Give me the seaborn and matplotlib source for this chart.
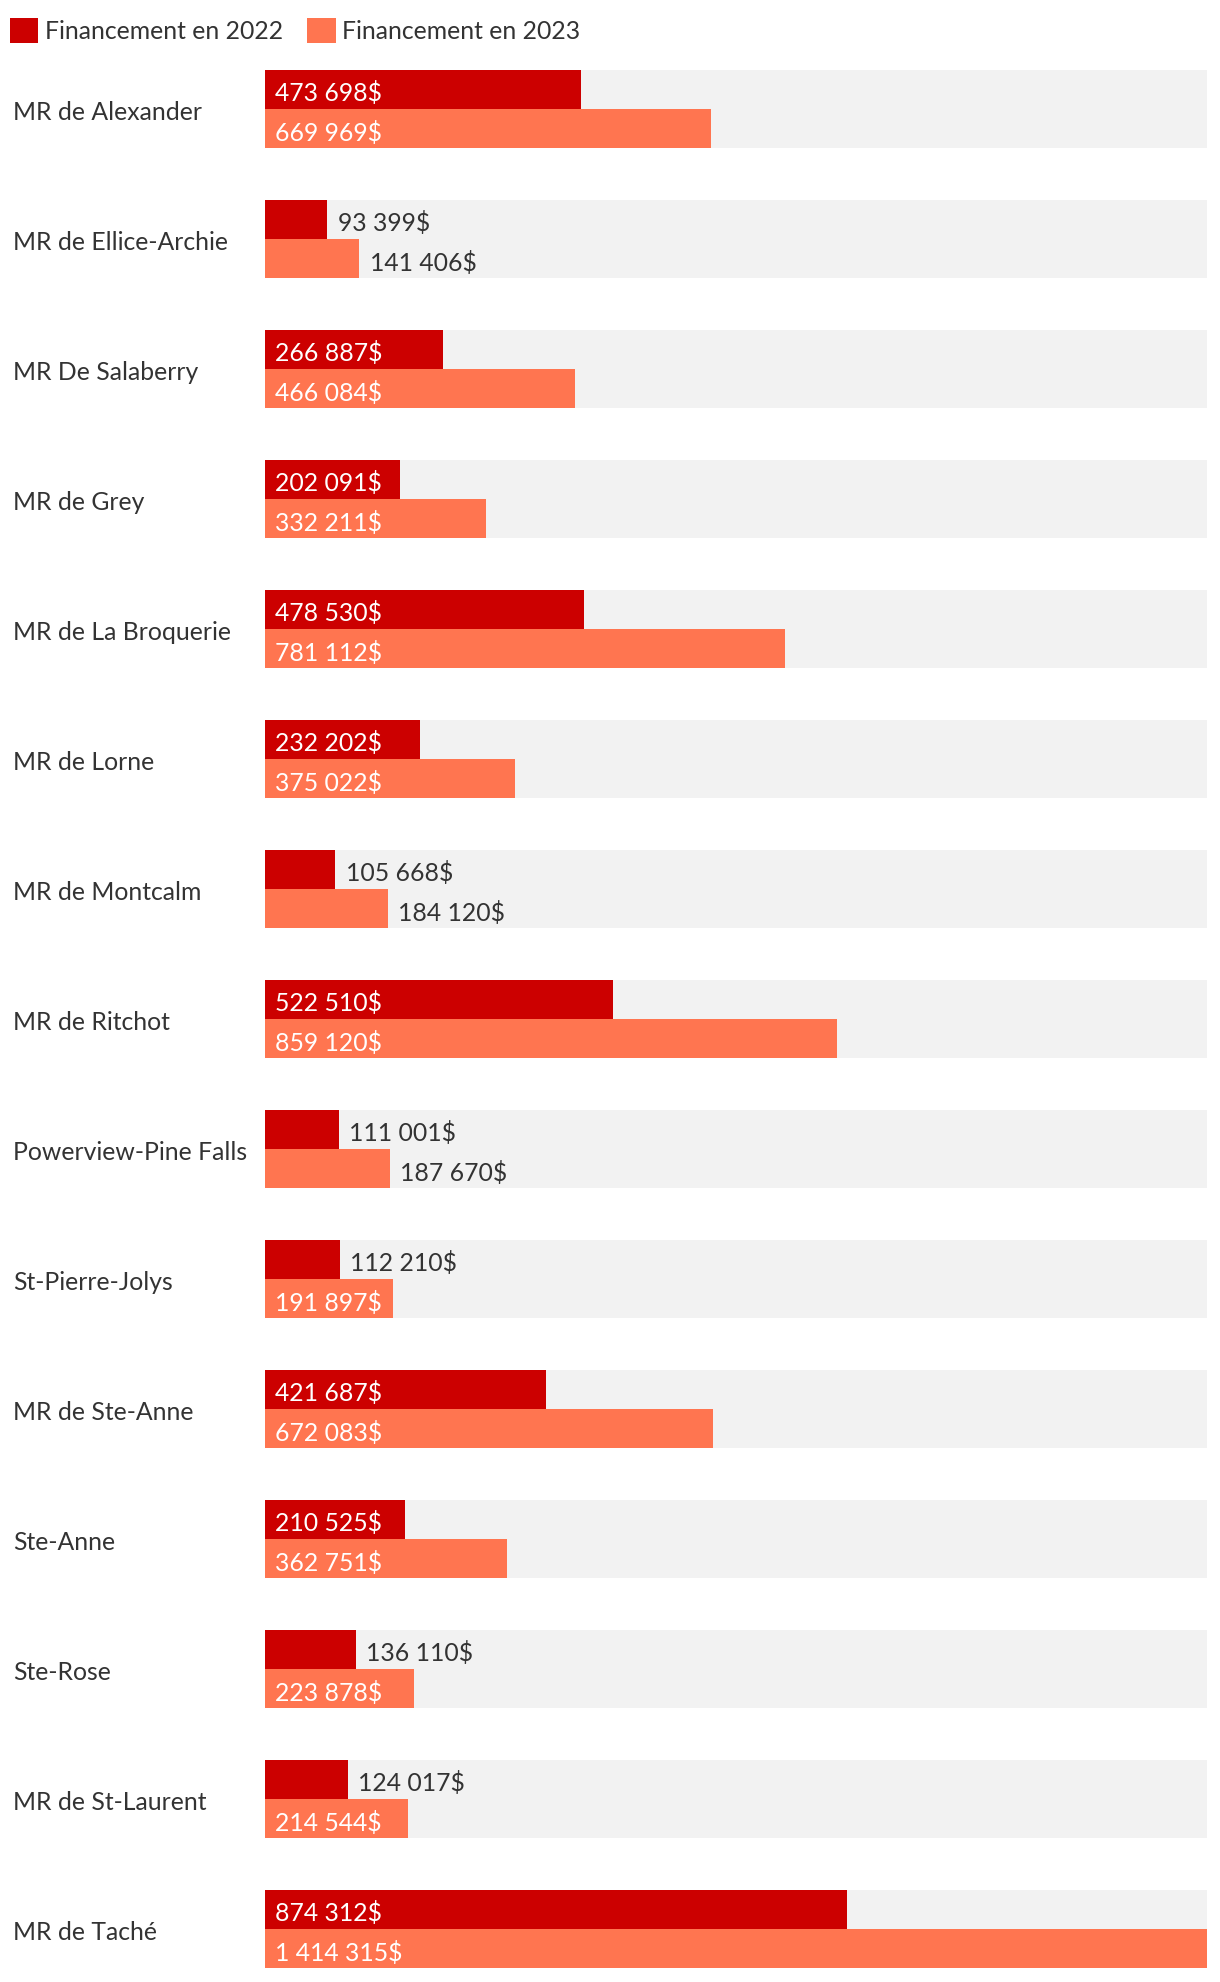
import matplotlib
matplotlib.use("Agg")
import matplotlib.pyplot as plt
import matplotlib.transforms as mtrans
import seaborn as sns
import pandas as pd

names = ["MR de Alexander", "MR de Ellice-Archie", "MR De Salaberry", "MR de Grey",
         "MR de La Broquerie", "MR de Lorne", "MR de Montcalm", "MR de Ritchot",
         "Powerview-Pine Falls", "St-Pierre-Jolys", "MR de Ste-Anne", "Ste-Anne",
         "Ste-Rose", "MR de St-Laurent", "MR de Taché"]
fund_2022 = [473698, 93399, 266887, 202091, 478530, 232202, 105668, 522510,
             111001, 112210, 421687, 210525, 136110, 124017, 874312]
fund_2023 = [669969, 141406, 466084, 332211, 781112, 375022, 184120, 859120,
             187670, 191897, 672083, 362751, 223878, 214544, 1414315]
series = ["Financement en 2022", "Financement en 2023"]
colors = ["#cc0000", "#ff7550"]

sns.set_style("white")
plt.rcParams['font.family'] = ['Lato', 'DejaVu Sans']
TXT = "#333333"
FS = 17.8

df = pd.DataFrame({
    "name": names * 2,
    "value": fund_2022 + fund_2023,
    "serie": [series[0]] * len(names) + [series[1]] * len(names),
})
top = max(fund_2023 + fund_2022)

fig = plt.figure(figsize=(12.2, 19.82), dpi=100)
ax = fig.add_axes([265 / 1220, 0, 942 / 1220, (1982 - 44) / 1982])

# grey track behind each pair of bars
sns.barplot(x=[top] * len(names), y=names, color="#f2f2f2", width=0.6,
            orient="h", errorbar=None, ax=ax, saturation=1, linewidth=0)
sns.barplot(data=df, x="value", y="name", hue="serie", palette=colors,
            width=0.6, orient="h", errorbar=None, ax=ax, saturation=1,
            order=names, hue_order=series, linewidth=0)

ax.set_xlim(0, top)
ax.set_ylim(len(names) - 1 + 53 / 130, -0.5)
ax.axis("off")

# nudge text a little lower so it sits centred on the bars
tr = mtrans.offset_copy(ax.transData, fig=fig, y=-4, units="dots")

pad = top * 0.011
for cont, vals in zip(ax.containers[1:], [fund_2022, fund_2023]):
    for bar, v in zip(cont, vals):
        lab = f"{v:,}".replace(",", " ") + "$"
        yc = bar.get_y() + bar.get_height() / 2
        if v >= 190000:
            ax.text(bar.get_x() + pad, yc, lab, color="white", va="center",
                    ha="left", fontsize=FS, transform=tr)
        else:
            ax.text(bar.get_width() + pad, yc, lab, color=TXT, va="center",
                    ha="left", fontsize=FS, transform=tr)

for i, n in enumerate(names):
    ax.text(-252 / 942 * top, i, n, color=TXT, va="center", ha="left",
            fontsize=FS, transform=tr)

handles, labels = ax.get_legend_handles_labels()
ax.legend_.remove()
fig.legend(handles[-2:], labels[-2:], loc="upper left", ncol=2,
           bbox_to_anchor=(10 / 1220, 1 - 18 / 1982), frameon=False, fontsize=FS,
           handlelength=1.15, handleheight=1.15, handletextpad=0.25,
           columnspacing=1.0, labelcolor=TXT, borderaxespad=0, borderpad=0)

fig.savefig("out.png", dpi=100, facecolor="white")
